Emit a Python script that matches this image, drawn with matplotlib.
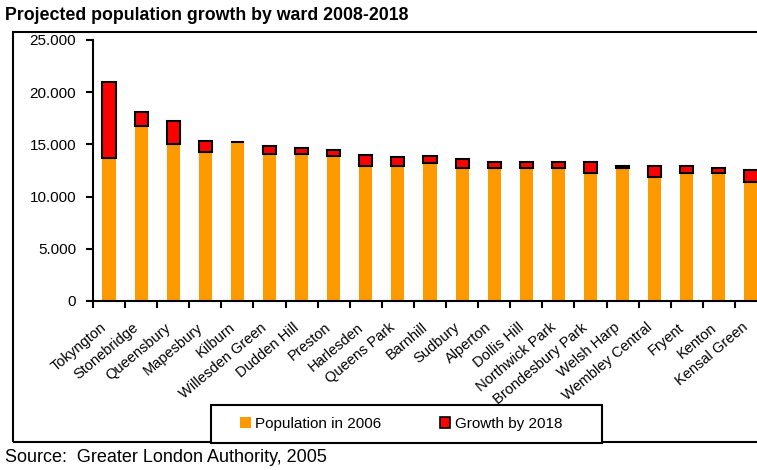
import matplotlib
matplotlib.use("Agg")
import matplotlib.pyplot as plt
from matplotlib.patches import Patch, Rectangle
from matplotlib.ticker import FuncFormatter, MultipleLocator
from matplotlib.transforms import ScaledTranslation
import numpy as np

plt.rcParams["font.family"] = ["Liberation Sans", "DejaVu Sans"]

wards = ["Tokyngton", "Stonebridge", "Queensbury", "Mapesbury", "Kilburn",
         "Willesden Green", "Dudden Hill", "Preston", "Harlesden", "Queens Park",
         "Barnhill", "Sudbury", "Alperton", "Dollis Hill", "Northwick Park",
         "Brondesbury Park", "Welsh Harp", "Wembley Central", "Fryent", "Kenton",
         "Kensal Green"]
pop_2006 = [13700, 16800, 15000, 14300, 15200, 14100, 14100, 13850, 12950, 12950,
            13200, 12700, 12700, 12700, 12700, 12300, 12700, 11850, 12300, 12300,
            11400]
growth_2018 = [7300, 1350, 2250, 1000, 0, 750, 550, 600, 1000, 800,
               650, 900, 650, 650, 650, 1050, 200, 1050, 600, 400,
               1100]

W, H = 757, 470
fig = plt.figure(figsize=(W / 100, H / 100), dpi=100)

# outer frame (runs off the right edge like the original)
fig.patches.append(Rectangle((13 / W, 1 - 442 / H), 760 / W, (442 - 32) / H,
                             transform=fig.transFigure, fill=False,
                             edgecolor="black", linewidth=1.5, clip_on=False))
# legend frame
fig.patches.append(Rectangle((211 / W, 1 - 443 / H), 391 / W, 38 / H,
                             transform=fig.transFigure, fill=True, facecolor="white",
                             edgecolor="black", linewidth=1.5, zorder=3))

ax = fig.add_axes([93 / W, 1 - 301 / H, 674 / W, 261 / H])
x = np.arange(len(wards))
ax.bar(x, pop_2006, width=0.41, color="#FF9900", linewidth=0)
ax.bar(x, growth_2018, width=0.41, bottom=pop_2006, color="#FF0000",
       edgecolor="black", linewidth=1.5)

ax.set_xlim(-0.5, len(wards) - 0.5)
ax.set_ylim(0, 25000)
ax.yaxis.set_major_locator(MultipleLocator(5000))
ax.yaxis.set_major_formatter(FuncFormatter(lambda v, p: "0" if v == 0 else f"{int(v):,}".replace(",", ".")))
ax.tick_params(axis="y", labelsize=11, length=5, width=1.5, direction="out", pad=7)

ax.set_xticks(x)
ax.set_xticklabels(wards, rotation=40, ha="right", rotation_mode="anchor", fontsize=10.5)
ax.set_xticks(np.arange(-0.5, len(wards)), minor=True)
ax.tick_params(axis="x", which="major", length=0, pad=14)
ax.tick_params(axis="x", which="minor", length=5, width=1.5, direction="out")
shift = ScaledTranslation(-9 / 100, 0, fig.dpi_scale_trans)
for lab in ax.get_xticklabels():
    lab.set_transform(lab.get_transform() + shift)

for s in ["top", "right"]:
    ax.spines[s].set_visible(False)
for s in ["left", "bottom"]:
    ax.spines[s].set_linewidth(1.5)

handles = [Patch(facecolor="#FF9900", edgecolor="none"),
           Patch(facecolor="#FF0000", edgecolor="black", linewidth=1.2)]
leg = fig.legend(handles, ["Population in 2006", "Growth by 2018"], ncol=2,
                 loc="center left", bbox_to_anchor=(240 / W, 1 - 424 / H),
                 fontsize=11, frameon=False, borderpad=0, borderaxespad=0,
                 handlelength=0.7, handleheight=0.7, handletextpad=0.3,
                 columnspacing=3.8)
leg.set_zorder(4)

fig.text(5 / W, 1 - 15 / H, "Projected population growth by ward 2008-2018",
         fontsize=12.8, fontweight="bold", va="center", ha="left")
fig.text(5 / W, 1 - 458 / H, "Source:  Greater London Authority, 2005",
         fontsize=13, va="center", ha="left")

fig.savefig("out.png", dpi=100)
